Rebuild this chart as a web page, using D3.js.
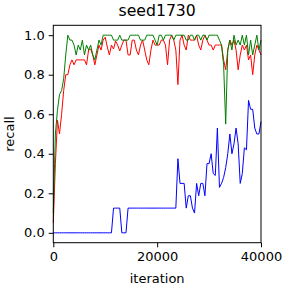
<!DOCTYPE html>
<html>
<head>
<meta charset="utf-8">
<script src="https://cdn.jsdelivr.net/npm/d3@7"></script>
<style>
  body { margin: 0; background: #fff; }
  svg text { font-family: "DejaVu Sans", sans-serif; fill: #000; }
</style>
</head>
<body>
<svg id="mainsvg" width="287" height="288"></svg>
<script>
// recall logged every 400 iterations
var step = 400;

var redRecall = [
  0.05, 0.35, 0.57, 0.5, 0.6, 0.72, 0.8, 0.8, 0.85, 0.875,
  0.85, 0.875, 0.875, 0.875, 0.875, 0.875, 0.85, 0.925, 0.93, 0.9,
  0.85, 0.9, 0.95, 0.925, 0.975, 0.99, 0.94, 0.9, 0.95, 0.93,
  0.97, 0.95, 0.92, 0.95, 0.975, 0.975, 0.9, 0.9, 0.975, 0.975,
  0.925, 0.9, 0.95, 0.975, 0.925, 0.875, 0.85, 0.925, 0.975, 0.95,
  0.95, 0.95, 0.975, 0.975, 0.95, 0.85, 0.975, 1.0, 0.975, 0.925,
  0.75, 0.975, 1.0, 0.95, 0.925, 1.0, 0.975, 0.975, 0.975, 1.0,
  0.95, 0.925, 0.975, 1.0, 0.975, 0.95, 0.95, 0.925, 0.95, 0.95,
  0.95, 0.95, 0.875, 0.825, 0.925, 0.975, 0.95, 0.975, 0.925, 0.825,
  0.9, 0.95, 0.925, 0.95, 0.875, 0.9, 0.8, 0.9, 0.95, 0.925,
  0.9
];

var greenRecall = [
  0.1, 0.5, 0.62, 0.7, 0.72, 0.78, 0.9, 1.0, 0.975, 0.975,
  0.95, 0.9, 0.95, 0.925, 0.975, 0.9, 0.95, 0.925, 0.95, 0.9,
  0.875, 0.925, 0.975, 0.95, 1.0, 1.0, 1.0, 1.0, 1.0, 0.975,
  0.975, 0.975, 1.0, 0.975, 0.975, 0.975, 0.975, 1.0, 1.0, 1.0,
  1.0, 1.0, 0.975, 0.975, 0.975, 1.0, 1.0, 1.0, 1.0, 0.975,
  0.95, 1.0, 1.0, 0.975, 1.0, 1.0, 1.0, 1.0, 0.975, 1.0,
  1.0, 1.0, 1.0, 1.0, 0.975, 0.975, 1.0, 1.0, 0.975, 1.0,
  1.0, 0.975, 1.0, 1.0, 0.975, 1.0, 1.0, 1.0, 1.0, 1.0,
  0.975, 0.95, 0.85, 0.55, 0.925, 0.975, 0.925, 1.0, 0.95, 0.975,
  0.95, 1.0, 0.95, 1.0, 0.9, 0.975, 0.9, 0.95, 1.0, 0.925,
  0.975
];

var blueRecall = [
  0, 0, 0, 0, 0, 0, 0, 0, 0, 0,
  0, 0, 0, 0, 0, 0, 0, 0, 0, 0,
  0, 0, 0, 0, 0, 0, 0, 0, 0, 0.125,
  0.125, 0.125, 0.125, 0, 0, 0, 0.125, 0.125, 0.125, 0.125,
  0.125, 0.125, 0.125, 0.125, 0.125, 0.125, 0.125, 0.125, 0.125, 0.125,
  0.125, 0.125, 0.125, 0.125, 0.125, 0.125, 0.125, 0.125, 0.125, 0.125,
  0.375, 0.25, 0.25, 0.25, 0.125, 0.1875, 0.1875, 0.125, 0.1, 0.25,
  0.1875, 0.25, 0.25, 0.1875, 0.35, 0.35, 0.4, 0.3, 0.29, 0.53,
  0.23, 0.25, 0.28, 0.33, 0.4, 0.5, 0.4, 0.45, 0.53, 0.45,
  0.25, 0.3, 0.43, 0.42, 0.67, 0.625, 0.625, 0.53, 0.5, 0.5,
  0.5625
];

var xTicks = [0, 20000, 40000];
var yTicks = [0.0, 0.2, 0.4, 0.6, 0.8, 1.0];

var margin = {top: 25.3, right: 26, bottom: 45.3, left: 53.3};
var width = 287 - margin.left - margin.right;
var height = 288 - margin.top - margin.bottom;

var svg = d3.select("#mainsvg");
var g = svg.append("g")
    .attr("transform", "translate(" + margin.left + "," + margin.top + ")");

var x = d3.scaleLinear().domain([0, 40000]).range([0, width]);
var y = d3.scaleLinear().domain([-0.05, 1.05]).range([height, 0]);

var line = d3.line()
    .x(function(d, i){ return x(i * step); })
    .y(function(d){ return y(d); });

[[redRecall, "red"], [greenRecall, "green"], [blueRecall, "blue"]].forEach(function(s){
    g.append("path")
        .datum(s[0])
        .attr("fill", "none")
        .attr("stroke", s[1])
        .attr("stroke-width", 1)
        .attr("stroke-linejoin", "round")
        .attr("d", line);
});

var xAxis = g.append("g")
    .attr("transform", "translate(0," + height + ")")
    .call(d3.axisBottom(x).tickValues(xTicks).tickFormat(d3.format("d"))
          .tickSizeOuter(0).tickSize(4.6).tickPadding(4));
var yAxis = g.append("g")
    .call(d3.axisLeft(y).tickValues(yTicks).tickFormat(d3.format(".1f"))
          .tickSizeOuter(0).tickSize(4.6).tickPadding(4));

[xAxis, yAxis].forEach(function(a){
    a.select(".domain").remove();
    a.selectAll("line").attr("stroke", "#000").attr("stroke-width", 1);
    a.selectAll("text").style("font-size", "13px").style("font-family", "DejaVu Sans");
});

// frame
g.append("rect")
    .attr("width", width)
    .attr("height", height)
    .attr("fill", "none")
    .attr("stroke", "#000")
    .attr("stroke-width", 1);

svg.append("text")
    .attr("x", margin.left + width / 2)
    .attr("y", 16)
    .attr("text-anchor", "middle")
    .style("font-size", "15.7px")
    .text("seed1730");

svg.append("text")
    .attr("x", margin.left + width / 2)
    .attr("y", 283)
    .attr("text-anchor", "middle")
    .style("font-size", "13px")
    .text("iteration");

svg.append("text")
    .attr("transform", "translate(14," + (margin.top + height / 2) + ") rotate(-90)")
    .attr("text-anchor", "middle")
    .style("font-size", "13px")
    .text("recall");
</script>
</body>
</html>
